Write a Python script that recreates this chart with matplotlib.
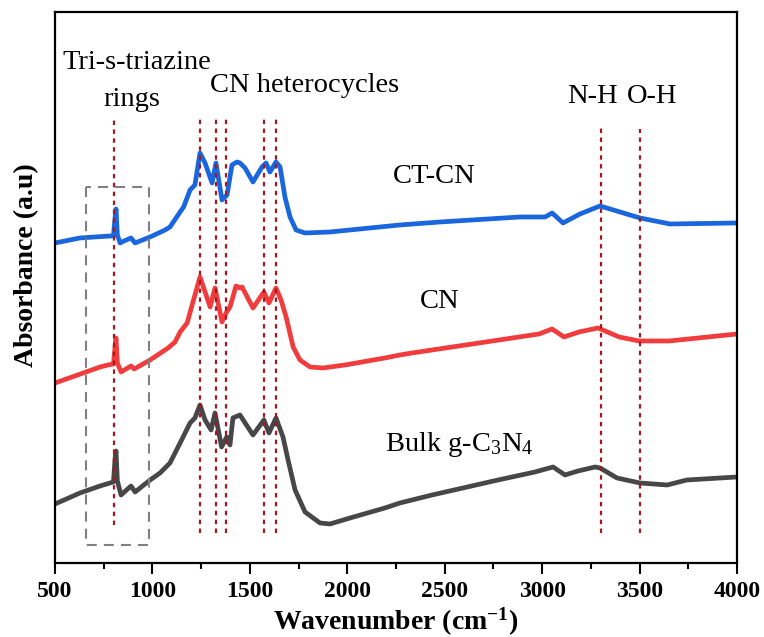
import numpy as np
import matplotlib
matplotlib.use("Agg")
import matplotlib.pyplot as plt

plt.rcParams['font.family'] = ['Liberation Serif', 'DejaVu Serif']
plt.rcParams['mathtext.fontset'] = 'custom'
plt.rcParams['mathtext.rm'] = 'Liberation Serif'
plt.rcParams['mathtext.it'] = 'Liberation Serif:italic'
plt.rcParams['mathtext.bf'] = 'Liberation Serif:bold'

# FTIR spectra (wavenumber in cm-1, absorbance in arbitrary units, already offset)
wn_ctcn = [500, 628, 782, 800, 808, 813, 820, 834, 854, 890, 911, 988, 1065, 1090,
           1142, 1160, 1193, 1218, 1244, 1270, 1306, 1326, 1357, 1383, 1408, 1434, 1449,
           1475, 1516, 1562, 1583, 1603, 1634, 1655, 1680, 1706, 1737, 1783, 1911,
           2270, 2476, 2886, 3015, 3051, 3107, 3194, 3297, 3502, 3656, 4000]
ab_ctcn = [320, 325, 327, 327, 345, 354, 328, 320, 322, 325, 320, 326, 333, 336,
           351, 356, 373, 378, 410, 400, 380, 400, 363, 368, 398, 401, 400,
           395, 381, 396, 400, 391, 401, 396, 366, 346, 333, 330, 331,
           338, 341, 346, 346, 350, 340, 349, 357, 345, 339, 340]

wn_cn = [500, 602, 731, 772, 800, 808, 813, 820, 839, 890, 906, 988, 1080, 1116,
         1142, 1178, 1208, 1244, 1296, 1321, 1357, 1378, 1398, 1429, 1449, 1460,
         1516, 1572, 1598, 1634, 1660, 1686, 1722, 1757, 1809, 1875, 1988, 2193,
         2270, 2332, 2676, 2984, 3051, 3112, 3189, 3287, 3395, 3497, 3651, 4000]
ab_cn = [180, 187, 196, 198, 199, 216, 225, 200, 191, 197, 194, 203, 215, 221,
         231, 240, 261, 286, 256, 275, 241, 250, 256, 277, 275, 276,
         255, 271, 260, 275, 263, 246, 216, 203, 196, 195, 198, 205,
         208, 210, 220, 229, 234, 226, 231, 235, 226, 222, 222, 229]

wn_bulk = [500, 628, 731, 782, 800, 808, 813, 820, 839, 890, 911, 988, 1039, 1090,
           1142, 1193, 1218, 1244, 1270, 1301, 1321, 1355, 1381, 1398, 1413, 1449,
           1516, 1572, 1598, 1634, 1670, 1696, 1732, 1783, 1860, 1911, 2014, 2193,
           2270, 2435, 2774, 2963, 3056, 3117, 3184, 3272, 3297, 3384, 3502, 3641,
           3743, 4000]
ab_bulk = [59, 70, 77, 80, 81, 104, 112, 82, 68, 77, 71, 83, 90, 100,
           120, 140, 145, 158, 143, 133, 150, 116, 126, 118, 145, 148,
           128, 143, 130, 145, 126, 103, 73, 51, 40, 39, 45, 55,
           60, 68, 83, 91, 96, 88, 92, 96, 95, 85, 80, 78,
           83, 86]

# characteristic band positions
ring_band = [805]
cn_bands = [1245, 1325, 1380, 1570, 1635]
nh_band = [3300]
oh_band = [3500]

fig = plt.figure(figsize=(7.64, 6.37), dpi=100)
ax = fig.add_axes([0.072, 0.1162, 0.8927, 0.865])

kw = dict(lw=3.4, solid_capstyle='round', solid_joinstyle='round')
ax.plot(wn_bulk, ab_bulk, color='#474747', **kw)
ax.plot(wn_cn, ab_cn, color='#f03c3c', **kw)
ax.plot(wn_ctcn, ab_ctcn, color='#1a66dd', **kw)

vcol = '#a3191f'
dash = (0, (2, 2))
ax.vlines(ring_band, 38, 443, colors=vcol, lw=1.6, linestyles=dash)
ax.vlines(cn_bands, 30, 446, colors=vcol, lw=1.6, linestyles=dash)
ax.vlines(nh_band, 30, 436, colors=vcol, lw=1.6, linestyles=dash)
ax.vlines(oh_band, 30, 434, colors=vcol, lw=1.6, linestyles=dash)

# dashed box around the triazine ring band
box_x = [659, 659, 982, 982, 659]
box_y = [376, 18, 18, 376, 376]
ax.plot(box_x, box_y, color='#808080', lw=1.5, dashes=(4.8, 3.4))

fs = 20.5
ax.text(921, 500, 'Tri-s-triazine', fontsize=fs, ha='center', va='center')
ax.text(895, 463, 'rings', fontsize=fs, ha='center', va='center')
ax.text(1783, 477, 'CN heterocycles', fontsize=fs, ha='center', va='center')
ax.text(3256, 466, 'N-H', fontsize=fs, ha='center', va='center')
ax.text(3564, 466, 'O-H', fontsize=fs, ha='center', va='center')
ax.text(2445, 386, 'CT-CN', fontsize=fs, ha='center', va='center')
ax.text(2476, 261, 'CN', fontsize=fs, ha='center', va='center')
ax.text(2573, 118, 'Bulk g-C$_3$N$_4$', fontsize=fs, ha='center', va='center')

ax.set_xlim(500, 4000)
ax.set_ylim(0, 551)
ax.set_xticks(np.arange(500, 4001, 500))
ax.set_xticks(np.arange(750, 4000, 500), minor=True)
ax.set_yticks([])
ax.tick_params(axis='x', which='major', direction='out', length=8, width=1.5, pad=5)
ax.tick_params(axis='x', which='minor', direction='out', length=4, width=1.5)
plt.setp(ax.get_xticklabels(), fontsize=17, fontweight='bold')
for sp in ax.spines.values():
    sp.set_linewidth(1.6)

ax.set_xlabel(r'Wavenumber (cm$^{\mathbf{-1}}$)', fontsize=20, fontweight='bold')
ax.xaxis.set_label_coords(0.5, -0.078)
ax.set_ylabel('Absorbance (a.u)', fontsize=20, fontweight='bold')
ax.yaxis.set_label_coords(-0.024, 0.54)

fig.savefig('out.png', dpi=100)
